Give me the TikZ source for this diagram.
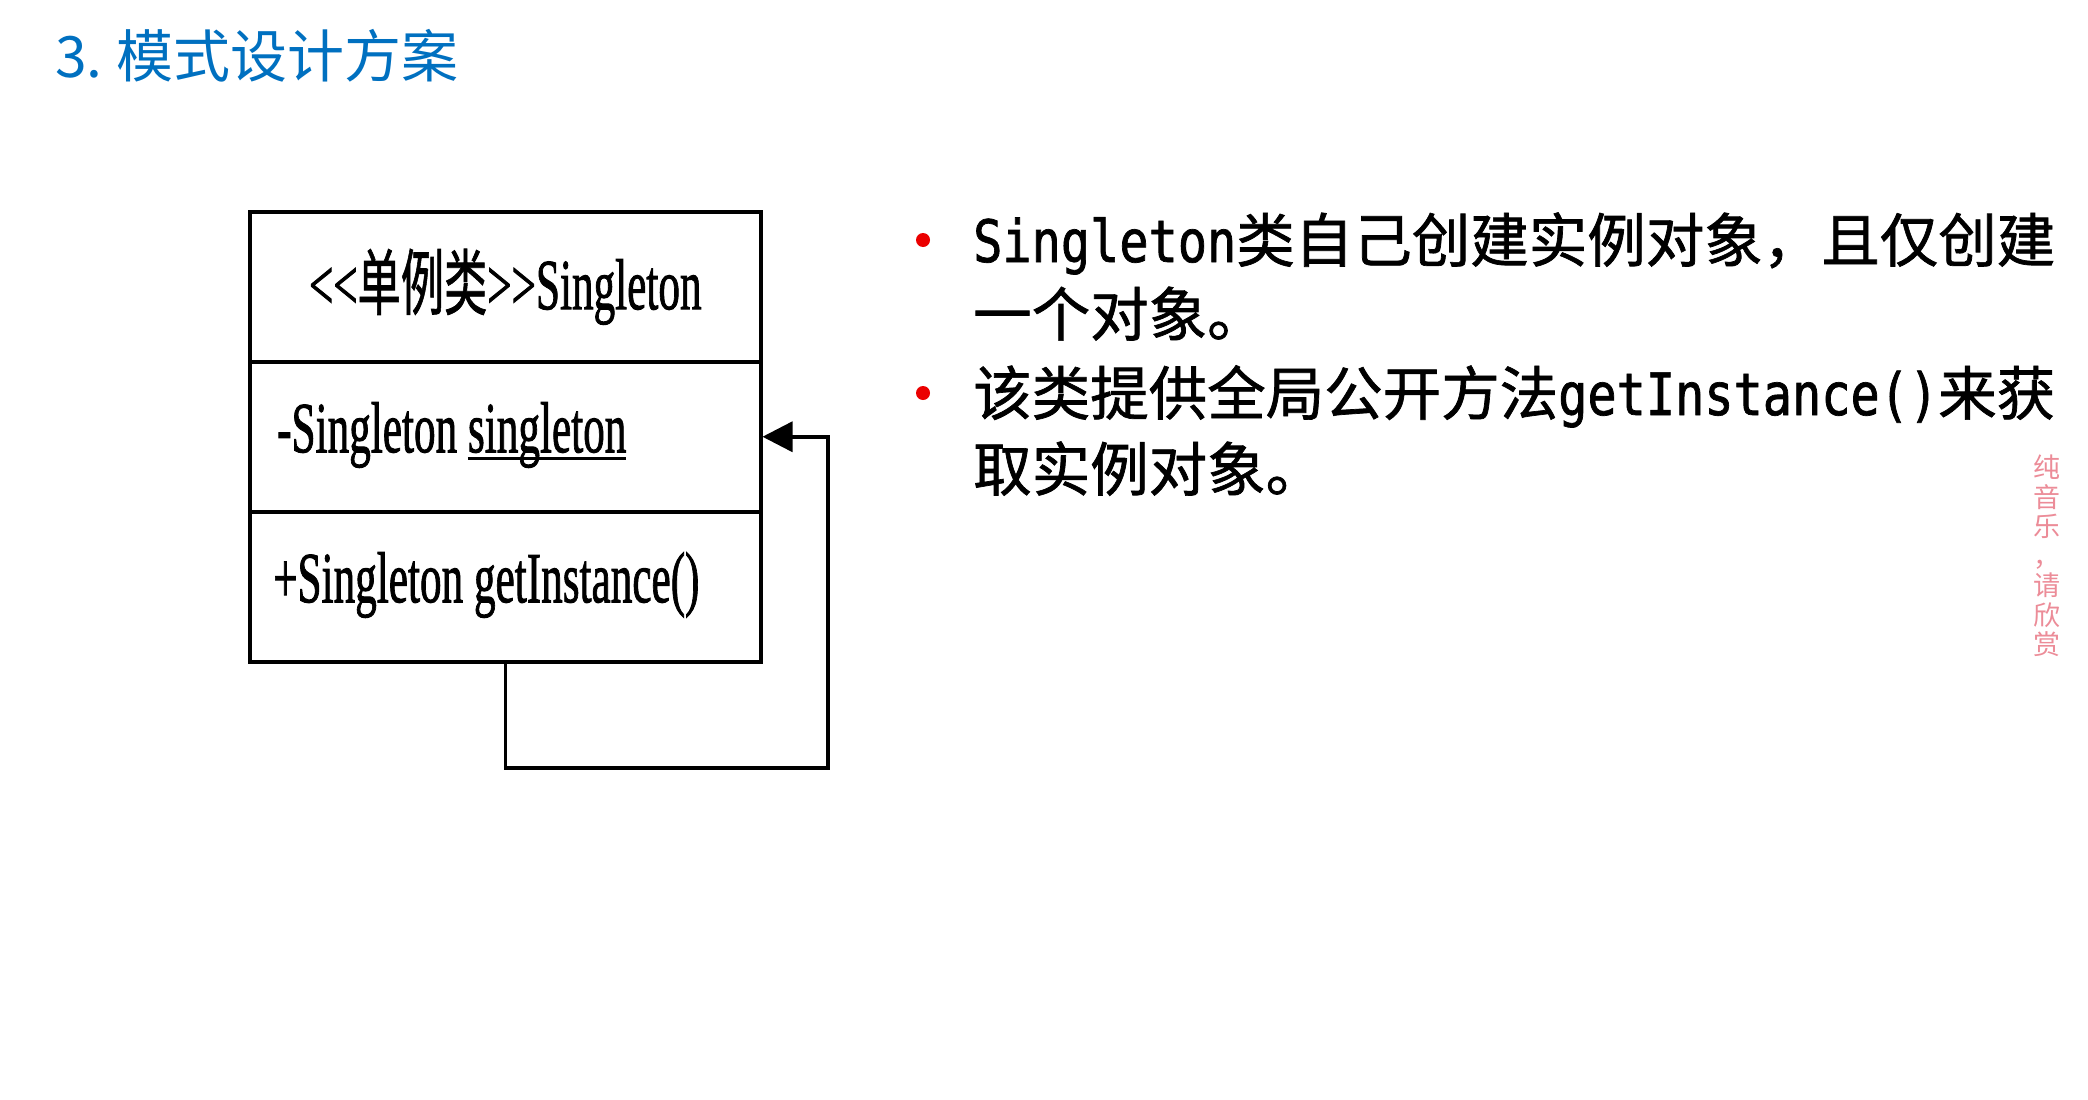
\documentclass[tikz,border=0pt]{standalone}
\usepackage{fontspec}
\usepackage{graphicx}
\usetikzlibrary{arrows.meta}
\newfontfamily\cjk{Noto Sans CJK SC}
\newfontfamily\cjkbody[FakeBold=1.2]{Noto Sans CJK SC}
\newfontfamily\umlfont[FakeBold=1.5]{Liberation Serif}
\newfontfamily\umlcjk[FakeBold=1.2]{Noto Sans CJK SC}
\newfontfamily\latmono[FakeStretch=0.83,FakeBold=1.2]{DejaVu Sans Mono}
\definecolor{titleblue}{RGB}{0,112,192}
\definecolor{bulletred}{RGB}{235,0,0}
\definecolor{wmpink}{RGB}{236,140,152}
\newcommand{\umltext}[1]{\scalebox{0.6}[1]{\umlfont\fontsize{72}{72}\selectfont #1}}
\newcommand{\thickul}[1]{\setbox0\hbox{#1}\rlap{\rule[-8pt]{\wd0}{3.5pt}}\box0}
\begin{document}
\begin{tikzpicture}[x=1pt,y=-1pt,
  compart/.style={draw=black, line width=3.5pt, minimum width=511pt, minimum height=150pt, inner sep=0pt, anchor=north west},
  umllabel/.style={inner sep=0pt},
  bodytext/.style={anchor=base west, inner sep=0pt, font=\cjkbody\fontsize{58.5}{58.5}\selectfont},
  bulletdot/.style={circle, fill=bulletred, inner sep=0pt, minimum size=14pt},
  selfloop/.style={draw=black, line width=3.5pt, -{Triangle[length=30pt,width=30pt]}}]
\useasboundingbox (0,0) rectangle (2088,1100);
\fill[white] (0,0) rectangle (2088,1100);
% title
\node[anchor=west, inner sep=0pt, text=titleblue, font=\cjk\fontsize{57}{57}\selectfont] (title) at (55,56) {3.\hspace{14pt}模式设计方案};
% class box
\node[compart] (c1) at (248,210) {};
\node[compart] (c2) at (248,360) {};
\node[compart] (c3) at (248,510) {};
\node[umllabel] (n1) at (c1.center) {\umltext{<{}<{\umlcjk 单例类}>{}>Singleton}};
\node[umllabel, anchor=west] (n2) at (277,435) {\umltext{-Singleton \thickul{singleton}}};
\node[umllabel, anchor=west] (n3) at (273,585) {\umltext{+Singleton getInstance()}};
% self loop
\coordinate (lr) at (828,768);
\draw[selfloop] (c3.south) |- (lr) |- (c2.east);
% bullets
\node[bulletdot] (b1) at (923,240) {};
\node[bulletdot] (b2) at (923,393) {};
\node[bodytext] (t1) at (973,262) {{\latmono Singleton}类自己创建实例对象，且仅创建};
\node[bodytext] (t2) at (973,336) {一个对象。};
\node[bodytext] (t3) at (973,415) {该类提供全局公开方法{\latmono getInstance()}来获};
\node[bodytext] (t4) at (973,491) {取实例对象。};
% watermark
\node[align=center, inner sep=0pt, text=wmpink, font=\cjk\fontsize{27}{29.5}\selectfont] (wm) at (2047,556) {纯\\音\\乐\\，\\请\\欣\\赏};
\end{tikzpicture}
\end{document}
